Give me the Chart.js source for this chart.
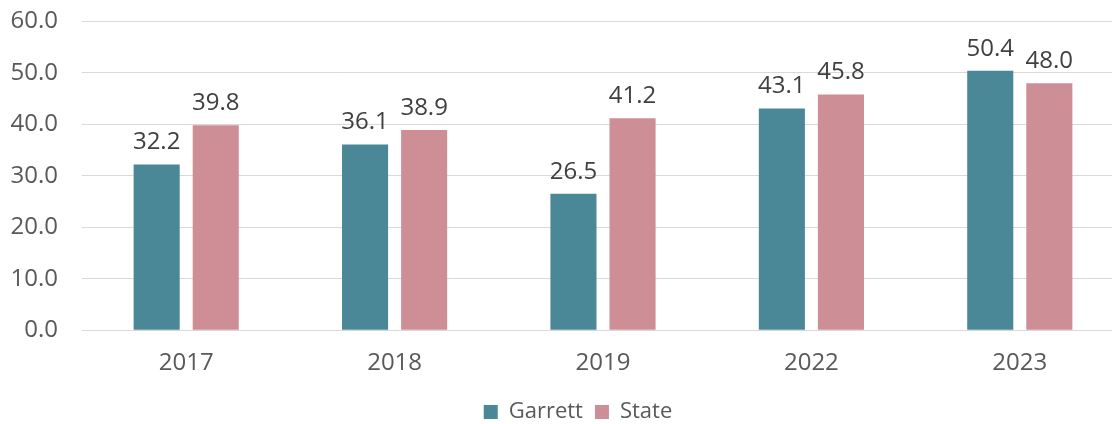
<!DOCTYPE html>
<html>
<head>
<meta charset="utf-8">
<script src="https://cdn.jsdelivr.net/npm/chart.js@4"></script>
<style>
  html, body { margin: 0; padding: 0; background: #fff; overflow: hidden; }
  #wrap { width: 1130px; height: 450px; margin-top: -17px; }
</style>
</head>
<body>
<div id="wrap"><canvas id="chart"></canvas></div>
<script>
// chart data
const years = ['2017', '2018', '2019', '2022', '2023'];
const garrett = [32.2, 36.1, 26.5, 43.1, 50.4];
const state = [39.8, 38.9, 41.2, 45.8, 48.0];
const yTicks = [0, 10, 20, 30, 40, 50, 60];

const FONT = '"Open Sans"';

// draws the value above each bar
const valueLabels = {
    id: 'valueLabels',
    afterDatasetsDraw(chart) {
        const ctx = chart.ctx;
        ctx.save();
        ctx.font = '24px ' + FONT;
        ctx.fillStyle = '#404040';
        ctx.textAlign = 'center';
        ctx.textBaseline = 'alphabetic';
        chart.data.datasets.forEach((ds, i) => {
            chart.getDatasetMeta(i).data.forEach((bar, j) => {
                ctx.fillText(ds.data[j].toFixed(1), bar.x, bar.y - 15);
            });
        });
        ctx.restore();
    }
};

// nudge the legend a bit to the right, like the original
const legendShift = {
    id: 'legendShift',
    afterLayout(chart) {
        const lg = chart.legend;
        if (!lg) return;
        lg.left += 16;
        lg.right += 16;
    }
};

Chart.defaults.font.family = FONT;
Chart.defaults.color = '#595959';

new Chart(document.getElementById('chart'), {
    type: 'bar',
    data: {
        labels: years,
        datasets: [{
            label: 'Garrett',
            data: garrett,
            backgroundColor: '#4a8898'
        }, {
            label: 'State',
            data: state,
            backgroundColor: '#cd8e96'
        }]
    },
    options: {
        responsive: true,
        maintainAspectRatio: false,
        animation: false,
        categoryPercentage: 0.567,
        barPercentage: 0.78,
        layout: { padding: { top: 9, right: 6, left: 0, bottom: 0 } },
        plugins: {
            legend: {
                position: 'bottom',
                labels: {
                    boxWidth: 14,
                    boxHeight: 14,
                    font: { size: 22 },
                    padding: 12
                }
            },
            tooltip: { enabled: false }
        },
        scales: {
            x: {
                grid: { display: false },
                border: { display: false },
                ticks: { font: { size: 24 }, padding: 11 }
            },
            y: {
                min: 0,
                max: 60,
                afterBuildTicks: axis => { axis.ticks = yTicks.map(v => ({ value: v })); },
                afterFit: axis => { axis.width = 82; },
                grid: { color: '#d9d9d9', drawTicks: false },
                border: { display: false },
                ticks: {
                    font: { size: 24 },
                    padding: 24,
                    callback: v => v.toFixed(1)
                }
            }
        }
    },
    plugins: [valueLabels, legendShift]
});
</script>
</body>
</html>
